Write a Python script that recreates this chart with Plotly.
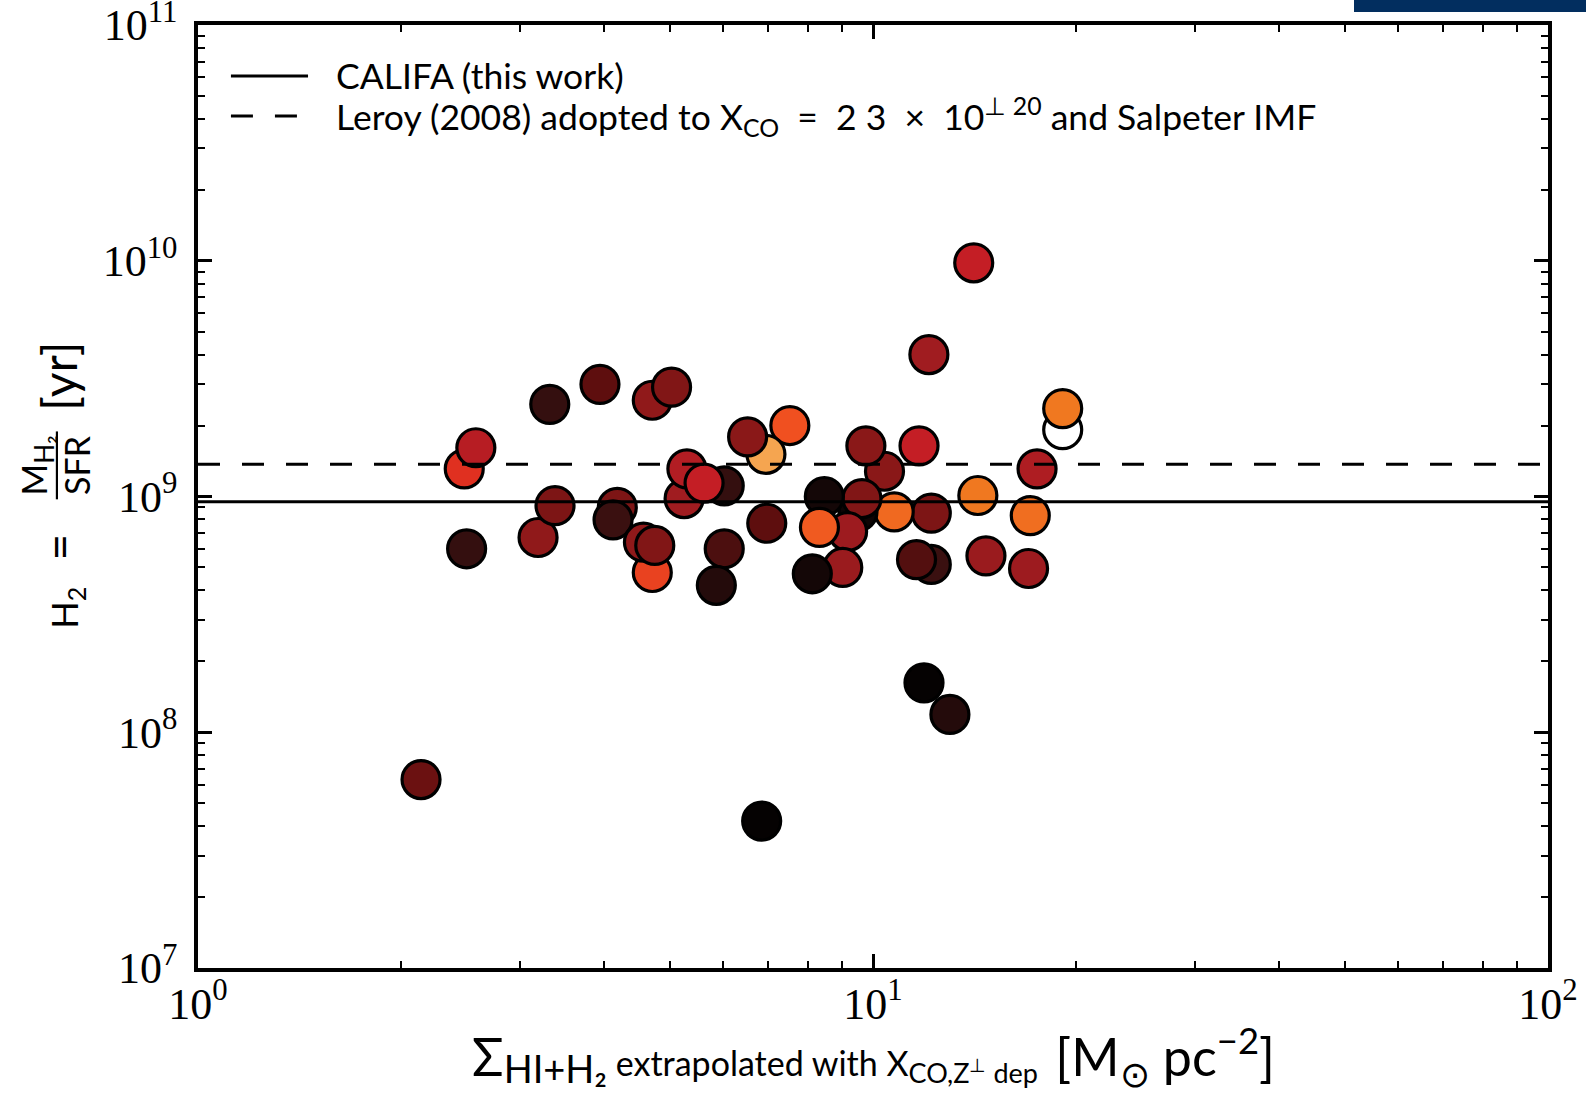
import plotly.graph_objects as go

# ---- data ----
sigma_gas = [2.14, 6.84, 11.9, 13.0, 14.1, 12.1, 19.1, 19.1, 17.5, 17.1, 17.0, 14.3, 14.7,
             11.7, 12.2, 12.2, 11.6, 10.75, 10.4, 9.76, 9.5, 9.63, 9.17, 9.02, 8.47, 8.33,
             8.13, 7.53, 6.94, 6.52, 6.96, 6.02, 5.86, 6.02, 5.25, 5.30, 5.62, 4.71, 5.03,
             3.94, 3.32, 2.48, 2.58, 2.50, 3.19, 3.38, 4.18, 4.12, 4.71, 4.57, 4.75]
tau_dep = [6.3e7, 4.2e7, 1.62e8, 1.19e8, 9.8e9, 4.0e9, 1.92e9, 2.36e9, 1.31e9, 8.3e8, 4.95e8,
           1.01e9, 5.6e8, 1.64e9, 8.5e8, 5.15e8, 5.4e8, 8.6e8, 1.28e9, 1.64e9, 8.6e8, 9.8e8,
           7.1e8, 5.0e8, 1.0e9, 7.4e8, 4.7e8, 2.0e9, 1.51e9, 1.79e9, 7.7e8, 6.0e8, 4.2e8,
           1.11e9, 9.8e8, 1.31e9, 1.14e9, 2.56e9, 2.91e9, 2.99e9, 2.46e9, 1.31e9, 1.61e9,
           6.0e8, 6.7e8, 9.15e8, 9.0e8, 7.96e8, 4.76e8, 6.4e8, 6.2e8]
color_value = [0.33, 0.0, 0.0, 0.12, 0.55, 0.47, 1.0, 0.78, 0.5, 0.76, 0.46, 0.78, 0.45,
               0.55, 0.37, 0.2, 0.27, 0.75, 0.4, 0.4, 0.03, 0.38, 0.46, 0.45, 0.06, 0.72,
               0.06, 0.7, 0.88, 0.4, 0.3, 0.25, 0.12, 0.18, 0.47, 0.51, 0.55, 0.42, 0.38,
               0.3, 0.18, 0.63, 0.52, 0.18, 0.42, 0.37, 0.37, 0.2, 0.67, 0.42, 0.38]

califa_level = 9.5e8
leroy_level = 1.37e9
x_range_vals = [1, 100]

legend_labels = ["CALIFA (this work)",
                 "Leroy (2008) adopted to X<sub>CO</sub>  =  2 3  ×  10<sup>⊥ 20</sup> and Salpeter IMF"]

x_tick_exp = [0, 1, 2]
y_tick_exp = [7, 8, 9, 10, 11]

colorscale = [[0.0, '#050202'], [0.1, '#1e0a0a'], [0.2, '#3a1010'], [0.3, '#5e0e0e'],
              [0.4, '#8a1818'], [0.47, '#a01c20'], [0.55, '#c41e25'], [0.63, '#e03020'],
              [0.7, '#f05020'], [0.78, '#f07820'], [0.88, '#f5a550'], [1.0, '#ffffff']]

fig = go.Figure()
fig.add_trace(go.Scatter(
    x=sigma_gas, y=tau_dep, mode='markers', showlegend=False,
    marker=dict(size=38, color=color_value, colorscale=colorscale, cmin=0, cmax=1,
                line=dict(color='black', width=3.2))))
fig.add_trace(go.Scatter(x=x_range_vals, y=[califa_level] * 2, mode='lines', showlegend=False,
                         line=dict(color='black', width=3)))
fig.add_trace(go.Scatter(x=x_range_vals, y=[leroy_level] * 2, mode='lines', showlegend=False,
                         line=dict(color='black', width=3, dash='22px,22px')))

minor_x = [m * 10 ** e for e in range(0, 2) for m in range(2, 10)]
minor_y = [m * 10 ** e for e in range(7, 11) for m in range(2, 10)]
tick_font = dict(family='Liberation Serif, DejaVu Serif, serif', size=44, color='black')

axis_common = dict(showline=True, linewidth=3.5, linecolor='black', mirror='allticks',
                   ticks='inside', ticklen=14, tickwidth=2.5, tickcolor='black',
                   showgrid=False, zeroline=False, tickfont=tick_font, automargin=False,
                   ticklabeloverflow='allow')

fig.update_xaxes(type='log', range=[0, 2], tickmode='array',
                 tickvals=[10 ** e for e in x_tick_exp],
                 ticktext=['10<sup>%d</sup>' % e for e in x_tick_exp],
                 minor=dict(tickmode='array', tickvals=minor_x, ticks='inside', ticklen=7,
                            tickwidth=2.2, tickcolor='black', showgrid=False),
                 ticklabelstandoff=-6, **axis_common)
fig.update_yaxes(type='log', range=[7, 11], tickmode='array',
                 tickvals=[10 ** e for e in y_tick_exp],
                 ticktext=['10<sup>%d</sup>' % e for e in y_tick_exp],
                 minor=dict(tickmode='array', tickvals=minor_y, ticks='inside', ticklen=7,
                            tickwidth=2.2, tickcolor='black', showgrid=False),
                 ticklabelstandoff=8, **axis_common)

sans = 'Lato, Liberation Sans, sans-serif'
annotations = []
shapes = []
# custom legend
leg_y = [0.946, 0.9035]
leg_dash = ['solid', '22px,22px']
for lab, yy, dsh in zip(legend_labels, leg_y, leg_dash):
    shapes.append(dict(type='line', xref='paper', yref='paper', x0=0.0244, x1=0.0815,
                       y0=yy, y1=yy, line=dict(color='black', width=3, dash=dsh)))
    annotations.append(dict(text=lab, xref='paper', yref='paper', x=0.101, y=yy,
                            xanchor='left', yanchor='middle', showarrow=False,
                            font=dict(family=sans, size=35.5, color='black')))

# x axis title
annotations.append(dict(
    text='<span style="font-size:52px">Σ</span><sub><span style="font-size:38px">HI+H₂</span></sub>'
         ' extrapolated with X<sub><span style="font-size:27px">CO,Z<sup>⊥</sup> dep</span></sub>  '
         '<span style="font-size:52px">[M<sub>⊙</sub> pc<sup>−2</sup>]</span>',
    xref='paper', yref='paper', x=0.5, y=-0.094, xanchor='center', yanchor='middle',
    showarrow=False, font=dict(family=sans, size=34, color='black')))

# y axis title as stacked rotated pieces (fraction)
frac_y = 0.533
annotations.append(dict(text='H<sub>2</sub>', xref='paper', yref='paper', x=-0.097, y=0.382,
                        textangle=-90, showarrow=False, font=dict(family=sans, size=36, color='black'),
                        xanchor='center', yanchor='middle'))
annotations.append(dict(text='=', xref='paper', yref='paper', x=-0.103, y=0.447,
                        textangle=-90, showarrow=False, font=dict(family=sans, size=46, color='black'),
                        xanchor='center', yanchor='middle'))
annotations.append(dict(text='M<sub><span style="font-size:26px">H₂</span></sub>', xref='paper',
                        yref='paper', x=-0.12, y=frac_y,
                        textangle=-90, showarrow=False, font=dict(family=sans, size=34, color='black'),
                        xanchor='center', yanchor='middle'))
annotations.append(dict(text='SFR', xref='paper', yref='paper', x=-0.09, y=frac_y,
                        textangle=-90, showarrow=False, font=dict(family=sans, size=34, color='black'),
                        xanchor='center', yanchor='middle'))
shapes.append(dict(type='line', xref='paper', yref='paper', x0=-0.1045, x1=-0.1045,
                   y0=frac_y - 0.036, y1=frac_y + 0.036, line=dict(color='black', width=2.2)))
annotations.append(dict(text='[yr]', xref='paper', yref='paper', x=-0.103, y=0.628,
                        textangle=-90, showarrow=False, font=dict(family=sans, size=48, color='black'),
                        xanchor='center', yanchor='middle'))

# top-right banner
shapes.append(dict(type='rect', xref='paper', yref='paper', x0=(1354 - 198) / 1350, x1=(1590 - 198) / 1350,
                   y0=1 + (25 - 12) / 943, y1=1 + 26 / 943, fillcolor='#022e5f', line=dict(width=0),
                   layer='above'))

fig.update_layout(width=1586, height=1098, margin=dict(l=198, r=38, t=25, b=130),
                  paper_bgcolor='white', plot_bgcolor='white',
                  annotations=annotations, shapes=shapes, showlegend=False)

fig.write_html('out.html', config={'displayModeBar': False},
               post_script="document.body.style.margin='0';")
